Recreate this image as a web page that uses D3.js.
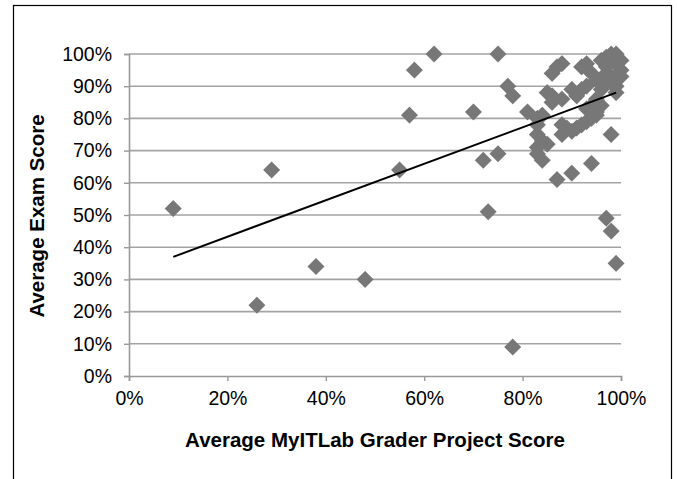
<html>
    <head>
        <meta charset="UTF-8">
        <title>Exam vs Grader Project Score</title>
        <script src="https://cdn.jsdelivr.net/npm/d3@7"></script>
        <style>
            body { margin: 0; background: #fff; }
            text { font-family: Arial, "Liberation Sans", sans-serif; fill: #000; }
        </style>
    </head>
    <body>
        <div id="chart"></div>

        <script>
            //-----------------------------------------
            // data (percent)
            var projectScore = [9, 26, 29, 38, 48, 55, 57, 58, 62, 70, 72, 73, 75, 75, 77, 78, 78, 81,
                83, 84, 83, 83, 84, 83, 83, 84, 85, 87, 90, 94, 97, 98, 99, 98,
                86, 87, 88, 86, 88, 85, 86,
                88, 90, 88, 89, 92, 94, 95, 91, 93,
                92, 93, 95, 97, 94, 92, 93, 96, 98, 99, 99, 99, 98, 97, 100, 96, 99, 97, 95, 94, 96, 90, 91, 93, 95,
                99, 100, 98, 100, 99, 97];
            var examScore = [52, 22, 64, 34, 30, 64, 81, 95, 100, 82, 67, 51, 69, 100, 90, 87, 9, 82,
                80, 81, 78, 75, 73, 71, 69, 67, 72, 61, 63, 66, 49, 45, 35, 75,
                94, 96, 97, 87, 86, 88, 85,
                78, 76, 75, 77, 78, 80, 82, 77, 79,
                89, 90, 92, 94, 94, 96, 97, 98, 100, 100, 97, 92, 91, 96, 95, 89, 88, 92, 86, 84, 84, 89, 87, 83, 81,
                99, 98, 93, 93, 90, 99];
            var trendX = [9, 99];
            var trendY = [37, 88];
            var xTicks = [0, 20, 40, 60, 80, 100];
            var yTicks = [0, 10, 20, 30, 40, 50, 60, 70, 80, 90, 100];

            var width = 677, height = 479;
            var svg = d3.select("#chart").append("svg")
                    .attr("width", width)
                    .attr("height", height);

            // outer frame (bottom edge runs off the picture)
            svg.append("rect")
                    .attr("x", 13.5).attr("y", 5.5)
                    .attr("width", 658).attr("height", 490)
                    .attr("fill", "none")
                    .attr("stroke", "#000")
                    .attr("stroke-width", 1.2);

            var x = d3.scaleLinear().domain([0, 100]).range([129, 621]);
            var y = d3.scaleLinear().domain([0, 100]).range([376, 54]);

            // gridlines
            svg.append("g").selectAll("line")
                    .data(yTicks.filter(function (d) { return d > 0; }))
                    .enter().append("line")
                    .attr("x1", x(0)).attr("x2", x(100))
                    .attr("y1", function (d) { return y(d); })
                    .attr("y2", function (d) { return y(d); })
                    .attr("stroke", "#a3a3a3")
                    .attr("stroke-width", 1.6);

            // axes
            var yAxis = d3.axisLeft(y).tickValues(yTicks)
                    .tickFormat(function (d) { return d + "%"; })
                    .tickSize(5).tickPadding(12);
            var gy = svg.append("g").attr("transform", "translate(" + x(0) + ",0)").call(yAxis);

            var xAxis = d3.axisBottom(x).tickValues(xTicks)
                    .tickFormat(function (d) { return d + "%"; })
                    .tickSize(5).tickPadding(10);
            var gx = svg.append("g").attr("transform", "translate(0," + y(0) + ")").call(xAxis);

            [gx, gy].forEach(function (g) {
                g.select(".domain").attr("stroke", "#999").attr("stroke-width", 1.6);
                g.selectAll(".tick line").attr("stroke", "#999").attr("stroke-width", 1.4);
                g.selectAll(".tick text")
                        .attr("fill", "#000")
                        .style("font-size", "19.5px")
                        .style("font-family", "Arial, 'Liberation Sans', sans-serif");
            });

            // soft edge for markers
            var defs = svg.append("defs");
            defs.append("filter").attr("id", "soft")
                    .append("feGaussianBlur").attr("stdDeviation", 0.7);

            // points
            var points = projectScore.map(function (v, i) {
                return {x: v, y: examScore[i]};
            });
            var diamond = d3.symbol().type(d3.symbolSquare).size(145);
            svg.append("g").selectAll("path")
                    .data(points)
                    .enter().append("path")
                    .attr("d", diamond)
                    .attr("transform", function (d) {
                        return "translate(" + x(d.x) + "," + y(d.y) + ") rotate(45)";
                    })
                    .attr("fill", "#777777")
                    .attr("filter", "url(#soft)");

            // trend line
            svg.append("line")
                    .attr("x1", x(trendX[0])).attr("y1", y(trendY[0]))
                    .attr("x2", x(trendX[1])).attr("y2", y(trendY[1]))
                    .attr("stroke", "#000")
                    .attr("stroke-width", 2);

            // axis titles
            svg.append("text")
                    .attr("x", 375).attr("y", 447)
                    .attr("text-anchor", "middle")
                    .style("font-size", "20.5px")
                    .style("font-weight", "bold")
                    .text("Average MyITLab Grader Project Score");

            svg.append("text")
                    .attr("transform", "translate(44,216) rotate(-90)")
                    .attr("text-anchor", "middle")
                    .style("font-size", "20.5px")
                    .style("font-weight", "bold")
                    .text("Average Exam Score");
        </script>
    </body>
</html>
